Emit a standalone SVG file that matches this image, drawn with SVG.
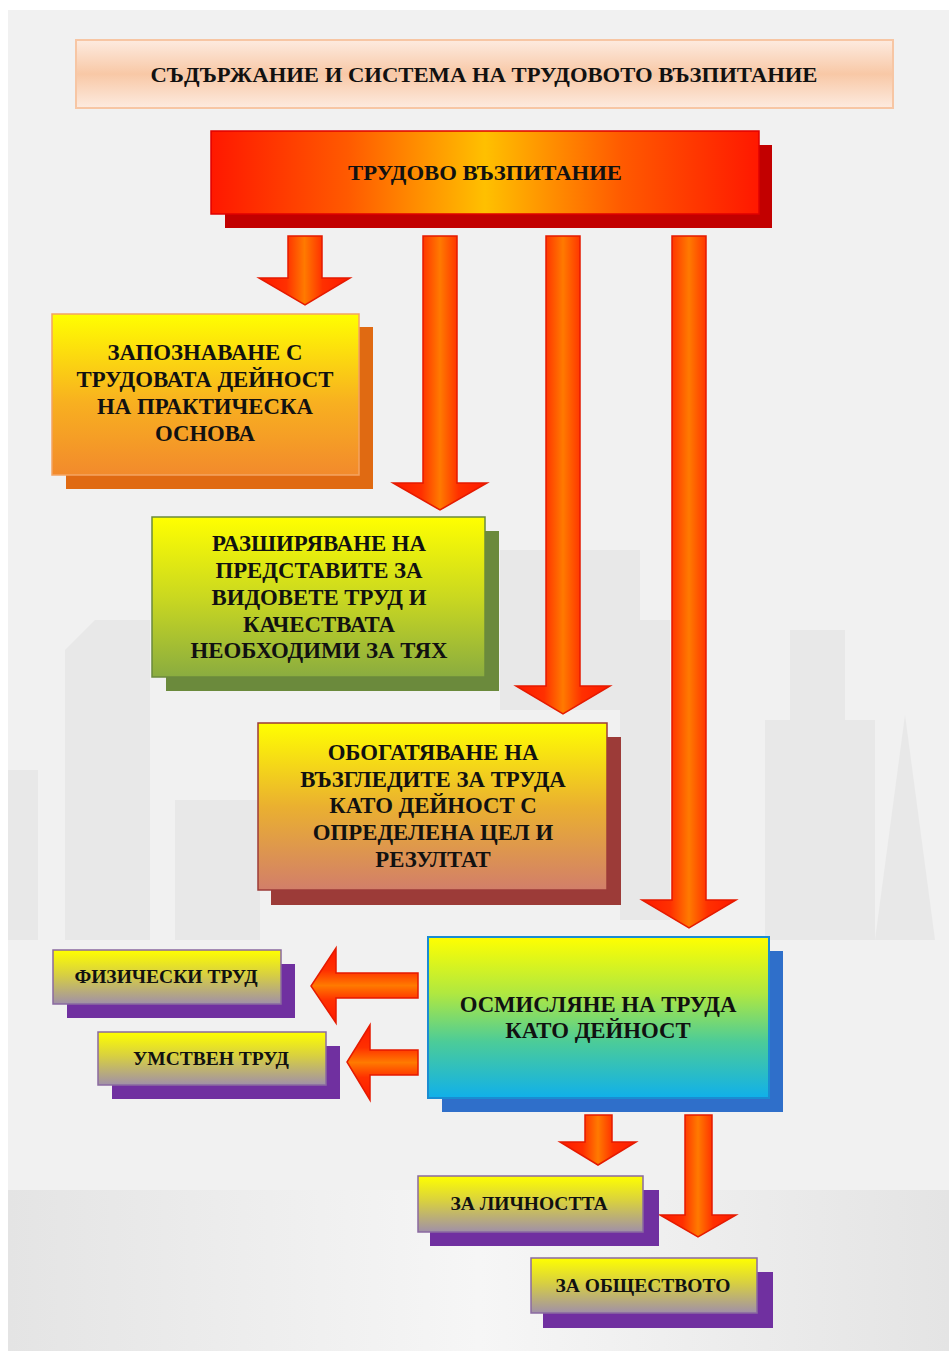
<svg xmlns="http://www.w3.org/2000/svg" width="949" height="1351" viewBox="0 0 949 1351">
<defs>
<style>
.t{font-family:"Liberation Serif","Times New Roman",serif;font-weight:bold;fill:#111;text-anchor:middle}
.f23{font-size:22.8px}
.f22{font-size:22px}
.f19{font-size:19.5px}
.arw{stroke:#e51a00;stroke-width:1.5;stroke-linejoin:miter}
.bld{fill:#e8e8e8}
</style>
<linearGradient id="bgBot" x1="0" y1="0" x2="1" y2="0">
<stop offset="0" stop-color="#e4e4e4"/><stop offset="0.5" stop-color="#f6f6f6"/><stop offset="1" stop-color="#e4e4e4"/>
</linearGradient>
<linearGradient id="gTitle" x1="0" y1="0" x2="0" y2="1">
<stop offset="0" stop-color="#fdebe0"/><stop offset="0.5" stop-color="#f8c8a6"/><stop offset="1" stop-color="#fdebe0"/>
</linearGradient>
<linearGradient id="gMain" x1="0" y1="0" x2="1" y2="0">
<stop offset="0" stop-color="#ff1800"/><stop offset="0.25" stop-color="#ff5a00"/><stop offset="0.5" stop-color="#ffc000"/><stop offset="0.75" stop-color="#ff5a00"/><stop offset="1" stop-color="#ff1800"/>
</linearGradient>
<linearGradient id="gB1" x1="0" y1="0" x2="0" y2="1">
<stop offset="0" stop-color="#ffff00"/><stop offset="0.55" stop-color="#f8b020"/><stop offset="1" stop-color="#f28a2c"/>
</linearGradient>
<linearGradient id="gB2" x1="0" y1="0" x2="0" y2="1">
<stop offset="0" stop-color="#ffff00"/><stop offset="0.5" stop-color="#cad820"/><stop offset="1" stop-color="#8aac40"/>
</linearGradient>
<linearGradient id="gB3" x1="0" y1="0" x2="0" y2="1">
<stop offset="0" stop-color="#ffff00"/><stop offset="0.5" stop-color="#eab030"/><stop offset="1" stop-color="#d27e6a"/>
</linearGradient>
<linearGradient id="gB4" x1="0" y1="0" x2="0" y2="1">
<stop offset="0" stop-color="#ffff00"/><stop offset="0.35" stop-color="#b0e840"/><stop offset="0.65" stop-color="#4ccc98"/><stop offset="1" stop-color="#10b0ea"/>
</linearGradient>
<linearGradient id="gSm" x1="0" y1="0" x2="0" y2="1">
<stop offset="0" stop-color="#ffff00"/><stop offset="0.45" stop-color="#d8d040"/><stop offset="1" stop-color="#a090a8"/>
</linearGradient>
<linearGradient id="gArV" x1="0" y1="0" x2="1" y2="0">
<stop offset="0" stop-color="#ff1800"/><stop offset="0.3" stop-color="#ff3000"/><stop offset="0.5" stop-color="#ff7a00"/><stop offset="0.7" stop-color="#ff3000"/><stop offset="1" stop-color="#ff1800"/>
</linearGradient>
<linearGradient id="gArH" x1="0" y1="0" x2="0" y2="1">
<stop offset="0" stop-color="#ff1800"/><stop offset="0.3" stop-color="#ff3000"/><stop offset="0.5" stop-color="#ff7a00"/><stop offset="0.7" stop-color="#ff3000"/><stop offset="1" stop-color="#ff1800"/>
</linearGradient>
</defs>

<!-- background -->
<rect x="0" y="0" width="949" height="1351" fill="#ffffff"/>
<rect x="8" y="10" width="941" height="1341" fill="#f1f1f1"/>
<rect x="8" y="1190" width="941" height="161" fill="url(#bgBot)"/>
<g id="city">
<rect class="bld" x="8" y="770" width="30" height="170"/>
<path class="bld" d="M65 650 L95 620 L150 620 L150 940 L65 940 Z"/>
<rect class="bld" x="175" y="800" width="85" height="140"/>
<rect class="bld" x="500" y="550" width="140" height="160"/>
<rect class="bld" x="620" y="620" width="50" height="300"/>
<rect class="bld" x="765" y="720" width="110" height="220"/>
<rect class="bld" x="790" y="630" width="55" height="100"/>
<path class="bld" d="M875 940 L905 715 L935 940 Z"/>
</g>

<!-- title -->
<g id="title">
<rect x="76" y="40" width="817" height="68" fill="url(#gTitle)" stroke="#f7c6a4" stroke-width="2"/>
<text class="t f22" x="484" y="82" textLength="667" lengthAdjust="spacingAndGlyphs">СЪДЪРЖАНИЕ И СИСТЕМА НА ТРУДОВОТО ВЪЗПИТАНИЕ</text>
</g>

<!-- main node -->
<g id="n-main">
<rect x="225" y="145" width="547" height="83" fill="#c20000"/>
<rect x="211" y="131" width="548" height="83" fill="url(#gMain)" stroke="#e00000" stroke-width="1.5"/>
<text class="t f22" x="485" y="180" textLength="274" lengthAdjust="spacingAndGlyphs">ТРУДОВО ВЪЗПИТАНИЕ</text>
</g>

<!-- connectors -->
<g id="connectors">
<path class="arw" fill="url(#gArV)" d="M288 236 H322 V278 H350 L305 305 L259 278 H288 Z"/>
<path class="arw" fill="url(#gArV)" d="M423 236 H457 V483 H487 L440 510 L393 483 H423 Z"/>
<path class="arw" fill="url(#gArV)" d="M546 236 H580 V686 H610 L563 714 L516 686 H546 Z"/>
<path class="arw" fill="url(#gArV)" d="M672 236 H706 V900 H736 L689 928 L642 900 H672 Z"/>
<path class="arw" fill="url(#gArH)" d="M418 973 V998 H336 V1023 L311 986 L336 948 V973 Z"/>
<path class="arw" fill="url(#gArH)" d="M418 1050 V1075 H370 V1100 L347 1062 L370 1025 V1050 Z"/>
<path class="arw" fill="url(#gArV)" d="M585 1115 H612 V1142 H636 L598 1165 L560 1142 H585 Z"/>
<path class="arw" fill="url(#gArV)" d="M685 1115 H712 V1215 H736 L698 1237 L660 1215 H685 Z"/>
</g>

<!-- box 1 -->
<g id="n-zapoznavane">
<rect x="66" y="327" width="307" height="162" fill="#e06a12"/>
<rect x="52" y="314" width="307" height="161" fill="url(#gB1)" stroke="#f4a462" stroke-width="1.5"/>
<text class="t f23" x="205" y="360">ЗАПОЗНАВАНЕ С</text>
<text class="t f23" x="205" y="387">ТРУДОВАТА ДЕЙНОСТ</text>
<text class="t f23" x="205" y="414">НА ПРАКТИЧЕСКА</text>
<text class="t f23" x="205" y="441">ОСНОВА</text>
</g>

<!-- box 2 -->
<g id="n-razshiryavane">
<rect x="166" y="531" width="333" height="160" fill="#6b8a3c"/>
<rect x="152" y="517" width="333" height="160" fill="url(#gB2)" stroke="#6b8a3c" stroke-width="1.5"/>
<text class="t f23" x="319" y="551">РАЗШИРЯВАНЕ НА</text>
<text class="t f23" x="319" y="578">ПРЕДСТАВИТЕ ЗА</text>
<text class="t f23" x="319" y="605">ВИДОВЕТЕ ТРУД И</text>
<text class="t f23" x="319" y="632">КАЧЕСТВАТА</text>
<text class="t f23" x="319" y="658">НЕОБХОДИМИ ЗА ТЯХ</text>
</g>

<!-- box 3 -->
<g id="n-obogatyavane">
<rect x="271" y="737" width="350" height="168" fill="#9c3b38"/>
<rect x="258" y="723" width="349" height="167" fill="url(#gB3)" stroke="#9c3b38" stroke-width="1.5"/>
<text class="t f23" x="433" y="760">ОБОГАТЯВАНЕ НА</text>
<text class="t f23" x="433" y="787">ВЪЗГЛЕДИТЕ ЗА ТРУДА</text>
<text class="t f23" x="433" y="813">КАТО ДЕЙНОСТ С</text>
<text class="t f23" x="433" y="840">ОПРЕДЕЛЕНА ЦЕЛ И</text>
<text class="t f23" x="433" y="867">РЕЗУЛТАТ</text>
</g>

<!-- box 4 -->
<g id="n-osmislyane">
<rect x="442" y="951" width="341" height="161" fill="#2f6fca"/>
<rect x="428" y="937" width="341" height="161" fill="url(#gB4)" stroke="#1a8cd2" stroke-width="2"/>
<text class="t f23" x="598" y="1012">ОСМИСЛЯНЕ НА ТРУДА</text>
<text class="t f23" x="598" y="1038">КАТО ДЕЙНОСТ</text>
</g>

<!-- small boxes -->
<g id="n-fizicheski">
<rect x="67" y="964" width="228" height="54" fill="#7030a0"/>
<rect x="53" y="950" width="228" height="54" fill="url(#gSm)" stroke="#8a6aa0" stroke-width="1.5"/>
<text class="t f19" x="166" y="983">ФИЗИЧЕСКИ ТРУД</text>
</g>
<g id="n-umstven">
<rect x="112" y="1046" width="228" height="53" fill="#7030a0"/>
<rect x="98" y="1032" width="228" height="53" fill="url(#gSm)" stroke="#8a6aa0" stroke-width="1.5"/>
<text class="t f19" x="211" y="1065">УМСТВЕН ТРУД</text>
</g>
<g id="n-lichnostta">
<rect x="430" y="1190" width="229" height="56" fill="#7030a0"/>
<rect x="418" y="1176" width="225" height="56" fill="url(#gSm)" stroke="#8a6aa0" stroke-width="1.5"/>
<text class="t f19" x="529" y="1210">ЗА ЛИЧНОСТТА</text>
</g>
<g id="n-obshtestvoto">
<rect x="543" y="1272" width="230" height="56" fill="#7030a0"/>
<rect x="531" y="1258" width="226" height="55" fill="url(#gSm)" stroke="#8a6aa0" stroke-width="1.5"/>
<text class="t f19" x="643" y="1292">ЗА ОБЩЕСТВОТО</text>
</g>
</svg>
